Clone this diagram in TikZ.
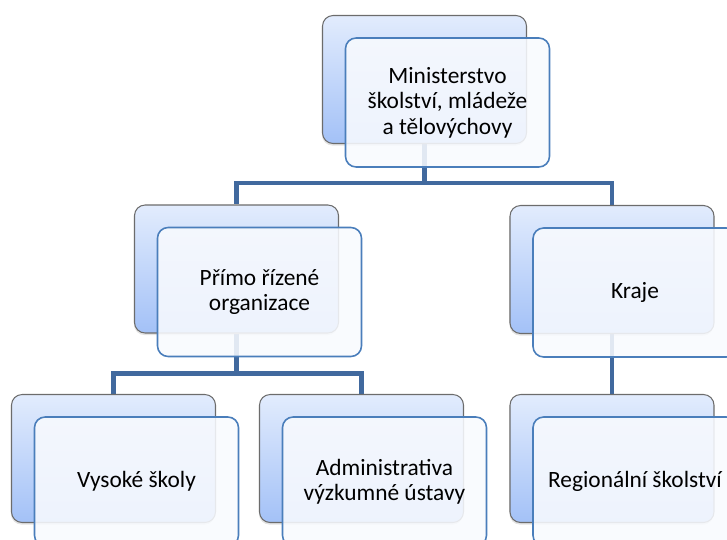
\documentclass[tikz,border=0pt]{standalone}
\usepackage{fontspec}
\setmainfont{Carlito}
\usetikzlibrary{positioning,calc,shadows,backgrounds}

\definecolor{connblue}{HTML}{41699E}
\definecolor{edgeblue}{HTML}{4A7EBB}
\definecolor{shadetop}{HTML}{E2ECFD}
\definecolor{shadebot}{HTML}{A3C1F7}
\definecolor{frontfill}{HTML}{F8FAFE}

\tikzset{
  backbox/.style={draw=gray!85!black, line width=0.6pt, rounded corners=6pt,
    top color=shadetop, bottom color=shadebot,
    minimum width=4.08cm, minimum height=2.56cm,
    drop shadow={shadow xshift=-0.3pt, shadow yshift=-1.2pt, opacity=0.22}},
  frontbox/.style={draw=edgeblue, line width=0.9pt, rounded corners=6pt,
    fill=frontfill, fill opacity=0.88, text opacity=1,
    minimum width=4.08cm, minimum height=2.58cm, align=center,
    font=\fontsize{13.3}{14.5}\selectfont},
  conn/.style={draw=connblue, line width=2.8pt}
}

\begin{document}
\begin{tikzpicture}[x=0.02cm, y=-0.02cm]
  \useasboundingbox (0,0) rectangle (727,539);
  \clip (0,0) rectangle (727,539);

  \node[backbox] (min)   at (424.5,79.5)  {};
  \node[backbox] (prim)  at (236.5,269)   {};
  \node[backbox] (kraje) at (612,269.5)   {};
  \node[backbox] (vs)    at (113.5,458.5) {};
  \node[backbox] (adm)   at (361.5,458.5) {};
  \node[backbox] (reg)   at (612,458.5)   {};

  \node[frontbox] (minF)   at ($(min)+(23,23)$)   {Ministerstvo\\školství, mládeže\\a tělovýchovy};
  \node[frontbox] (primF)  at ($(prim)+(23,23)$)  {Přímo řízené\\organizace};
  \node[frontbox] (krajeF) at ($(kraje)+(23,23)$) {Kraje};
  \node[frontbox] (vsF)    at ($(vs)+(23,23)$)    {Vysoké školy};
  \node[frontbox] (admF)   at ($(adm)+(23,23)$)   {Administrativa\\výzkumné ústavy};
  \node[frontbox] (regF)   at ($(reg)+(23,23)$)   {Regionální školství};

  \begin{scope}[on background layer]
    \draw[conn] (min.south) -- ++(0,39) -| (prim.north);
    \draw[conn] (min.south) -- ++(0,39) -| (kraje.north);
    \draw[conn] (prim.south) -- ++(0,40) -| (vs.north);
    \draw[conn] (prim.south) -- ++(0,40) -| (adm.north);
    \draw[conn] (kraje.south) -- (reg.north);
  \end{scope}
\end{tikzpicture}
\end{document}
